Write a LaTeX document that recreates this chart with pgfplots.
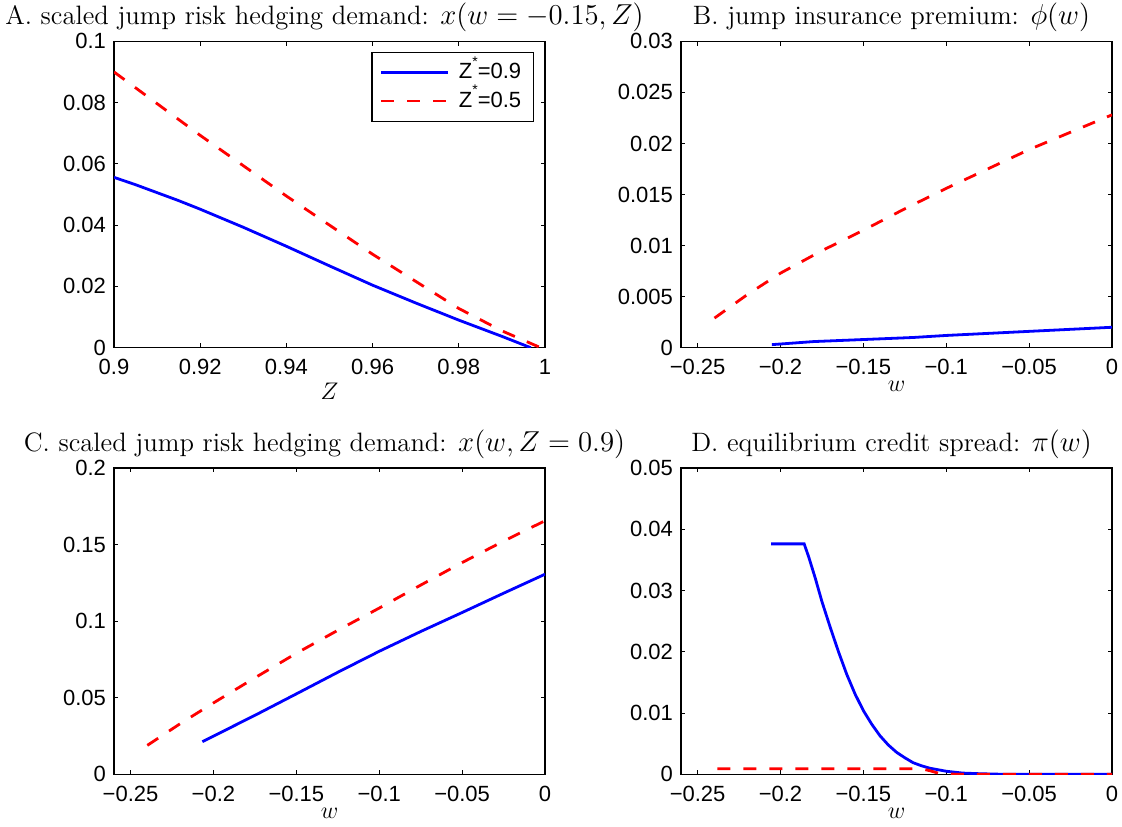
\documentclass[border=0pt]{standalone}
\usepackage{fontspec}
\usepackage{pgfplots}
\pgfplotsset{compat=1.18}
\newfontfamily\hel{Liberation Sans}
\definecolor{mblue}{rgb}{0,0,1}
\definecolor{mred}{rgb}{1,0,0}
\newcommand{\zstar}{Z\smash{\raisebox{6.3pt}{\scriptsize *}}}
\pgfplotsset{
 panel/.style={scale only axis, width=215.5pt, height=153.2pt, anchor=south west,
   axis line style={line width=0.6pt}, tick style={line width=0.5pt, black}, major tick length=2.2pt,
   tick align=inside, xtick pos=both, ytick pos=both, scaled ticks=false,
   ticklabel style={font=\hel\fontsize{11}{13}\selectfont},
   xticklabel style={yshift=-2.3pt}, yticklabel style={xshift=-0.5pt},
   title style={font=\fontsize{13.3}{15.5}\selectfont, at={(0.5,1)}, anchor=base, inner sep=0.5pt, yshift=2.3pt, xshift=-2.5pt},
   label style={font=\fontsize{13}{15}\selectfont},
   xlabel style={at={(0.5,0)}, anchor=base, yshift=-22pt},
   wticks/.style={xmin=-0.26, xmax=0, xtick={-0.25,-0.2,-0.15,-0.1,-0.05,0},
     xticklabels={−0.25,−0.2,−0.15,−0.1,−0.05,0}, xlabel={$w$}},
 },
 bl/.style={mblue, line width=1.4pt},
 rd/.style={mred, line width=1.4pt, dash pattern=on 6.5pt off 6.5pt},
}
\begin{document}
\begin{tikzpicture}
\useasboundingbox (0,0) rectangle (561pt,413pt);
% Panel A
\begin{axis}[panel, at={(57pt,239.15pt)},
  xmin=0.9, xmax=1, ymin=0, ymax=0.1,
  xtick={0.9,0.92,0.94,0.96,0.98,1}, xticklabels={0.9,0.92,0.94,0.96,0.98,1},
  ytick={0,0.02,0.04,0.06,0.08,0.1}, yticklabels={0,0.02,0.04,0.06,0.08,0.1},
  xlabel={$Z$}, xlabel style={yshift=-4pt},
  title={A. scaled jump risk hedging demand: $x(w=-0.15,Z)$},
  legend style={at={(1,1)}, anchor=north east, xshift=-5.6pt, yshift=-5.2pt,
    font=\hel\fontsize{11}{13}\selectfont, draw=black, line width=0.6pt,
    inner xsep=4pt, inner ysep=3.6pt, row sep=1pt, column sep=2.5pt, legend cell align=left},
  legend image code/.code={\draw[#1] (0pt,0pt) -- (33.5pt,0pt);},
  ]
\addplot[bl] coordinates {(0.900,0.0556) (0.905,0.0532) (0.910,0.0506) (0.915,0.0480) (0.920,0.0452) (0.930,0.0393) (0.940,0.0331) (0.950,0.0267) (0.960,0.0204) (0.970,0.0146) (0.980,0.0090) (0.990,0.0037) (0.9967,0.0000)};
\addlegendentry{\zstar=0.9}
\addplot[rd] coordinates {(0.900,0.0900) (0.920,0.0693) (0.940,0.0495) (0.960,0.0305) (0.980,0.0128) (0.990,0.0055) (0.999,0.0000)};
\addlegendentry{\zstar=0.5}
\end{axis}
% Panel B
\begin{axis}[panel, wticks, at={(340.5pt,239.15pt)},
  ymin=0, ymax=0.03,
  ytick={0,0.005,0.01,0.015,0.02,0.025,0.03}, yticklabels={0,0.005,0.01,0.015,0.02,0.025,0.03},
  title={B. jump insurance premium: $\phi(w)$},
  ]
\addplot[bl] coordinates {(-0.2052,0.0003) (-0.18,0.0006) (-0.15,0.0008) (-0.12,0.0010) (-0.10,0.0012) (-0.05,0.0016) (0,0.0020)};
\addplot[rd] coordinates {(-0.2398,0.0029) (-0.22,0.0052) (-0.20,0.0073) (-0.175,0.0095) (-0.15,0.0115) (-0.125,0.0136) (-0.10,0.0156) (-0.075,0.0175) (-0.05,0.0194) (-0.025,0.0211) (0,0.0228)};
\end{axis}
% Panel C
\begin{axis}[panel, wticks, at={(57pt,25.85pt)},
  ymin=0, ymax=0.2,
  ytick={0,0.05,0.1,0.15,0.2}, yticklabels={0,0.05,0.1,0.15,0.2},
  title={C. scaled jump risk hedging demand: $x(w,Z=0.9)$},
  ]
\addplot[bl] coordinates {(-0.2067,0.0213) (-0.175,0.0385) (-0.15,0.0525) (-0.125,0.0666) (-0.10,0.0803) (-0.075,0.0932) (-0.05,0.1056) (-0.025,0.1182) (0,0.1306)};
\addplot[rd] coordinates {(-0.2399,0.0189) (-0.22,0.0331) (-0.20,0.0466) (-0.175,0.0630) (-0.15,0.0790) (-0.125,0.0940) (-0.10,0.1085) (-0.075,0.1235) (-0.05,0.1382) (-0.025,0.1522) (0,0.1655)};
\end{axis}
% Panel D
\begin{axis}[panel, wticks, at={(340.5pt,25.85pt)},
  ymin=0, ymax=0.05,
  ytick={0,0.01,0.02,0.03,0.04,0.05}, yticklabels={0,0.01,0.02,0.03,0.04,0.05},
  title={D. equilibrium credit spread: $\pi(w)$},
  ]
\addplot[bl] coordinates {(-0.2056,0.0376) (-0.1857,0.0376) (-0.183,0.0355) (-0.179,0.0320) (-0.175,0.0282) (-0.170,0.0240) (-0.165,0.0200) (-0.160,0.0163) (-0.155,0.0131) (-0.150,0.0104) (-0.145,0.0082) (-0.140,0.0063) (-0.135,0.0048) (-0.130,0.0036) (-0.125,0.0027) (-0.120,0.0019) (-0.115,0.0014) (-0.110,0.0010) (-0.100,0.0005) (-0.090,0.0002) (-0.080,0.0001) (-0.070,0.00003) (-0.060,0) (0,0)};
\addplot[rd] coordinates {(-0.2380,0.0009) (-0.115,0.0009) (-0.110,0.0006) (-0.105,0.0002) (-0.100,0.00005) (-0.090,0) (0,0)};
\end{axis}
\end{tikzpicture}
\end{document}
